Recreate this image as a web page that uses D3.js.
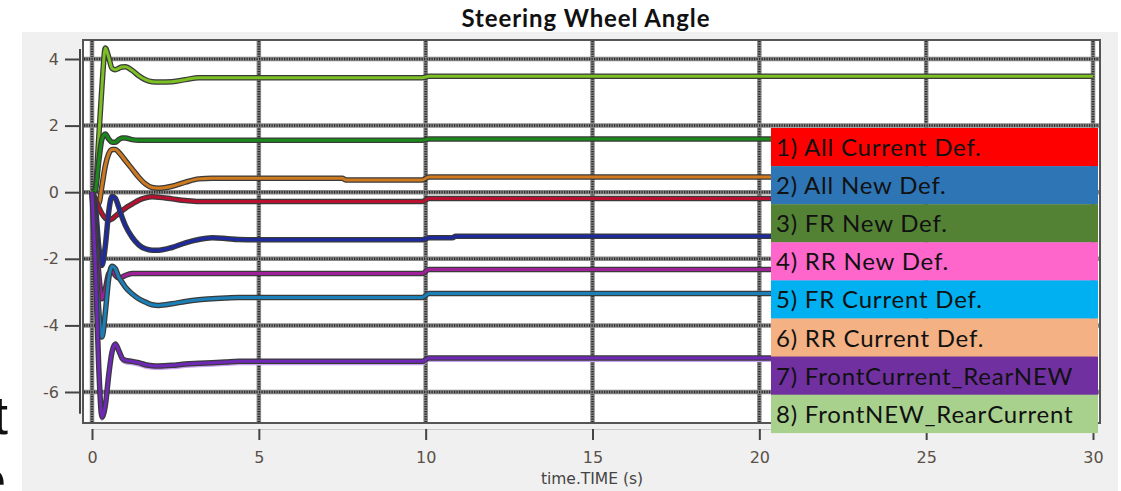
<!DOCTYPE html>
<html>
<head>
    <meta charset="utf-8" />
    <title>Steering Wheel Angle</title>
    <script src="https://cdn.jsdelivr.net/npm/d3@7"></script>
    <style>
        body { margin: 0; background: #fff; }
        svg { display: block; }
        .tick text { font-family: "DejaVu Sans", sans-serif; font-size: 16px; fill: #5a5048; }
    </style>
</head>
<body>
    <svg id="chart" width="1121" height="491"></svg>

    <script>
        // time samples shared by every curve (s)
        var times = [0, 0.1, 0.2, 0.3, 0.4, 0.5, 0.6, 0.7, 0.8, 0.9, 1.0, 1.2, 1.4, 1.6, 1.8, 2.0,
            2.4, 2.8, 3.2, 3.6, 4.0, 4.4, 5.0, 6.0, 7.5, 7.6, 9.9, 10.1, 10.8, 10.9, 20, 30]

        // steering wheel angle per curve
        var yellowGreen = [0, 0.1, 1.6, 3.2, 4.33, 4.05, 3.72, 3.68, 3.72, 3.76, 3.77, 3.66, 3.5, 3.38, 3.32, 3.31,
            3.32, 3.38, 3.44, 3.44, 3.44, 3.44, 3.44, 3.44, 3.44, 3.44, 3.44, 3.48, 3.48, 3.48, 3.48, 3.48]
        var darkGreen = [0, 0.05, 0.9, 1.6, 1.75, 1.6, 1.5, 1.5, 1.58, 1.63, 1.63, 1.58, 1.56, 1.56, 1.56, 1.56,
            1.56, 1.56, 1.56, 1.56, 1.56, 1.56, 1.56, 1.56, 1.56, 1.56, 1.56, 1.6, 1.6, 1.6, 1.6, 1.6]
        var orange = [0, -0.2, -0.35, 0.2, 0.8, 1.15, 1.28, 1.28, 1.2, 1.08, 0.95, 0.7, 0.45, 0.25, 0.14, 0.12,
            0.18, 0.3, 0.4, 0.42, 0.42, 0.42, 0.42, 0.42, 0.42, 0.37, 0.37, 0.46, 0.46, 0.46, 0.46, 0.46]
        var crimson = [0, -0.2, -0.45, -0.65, -0.78, -0.84, -0.8, -0.72, -0.64, -0.56, -0.48, -0.36, -0.24, -0.17, -0.14, -0.15,
            -0.2, -0.25, -0.28, -0.28, -0.28, -0.28, -0.28, -0.28, -0.28, -0.28, -0.28, -0.19, -0.19, -0.19, -0.19, -0.19]
        var navy = [0, -0.4, -1.6, -2.2, -1.6, -0.6, -0.12, -0.18, -0.45, -0.75, -1.0, -1.35, -1.58, -1.7, -1.74, -1.74,
            -1.66, -1.52, -1.42, -1.37, -1.39, -1.42, -1.43, -1.43, -1.43, -1.43, -1.43, -1.37, -1.37, -1.32, -1.32, -1.32]
        var magenta = [0, -1.0, -2.4, -3.2, -2.9, -2.45, -2.35, -2.5, -2.58, -2.55, -2.5, -2.44, -2.44, -2.44, -2.44, -2.44,
            -2.44, -2.44, -2.44, -2.44, -2.44, -2.44, -2.44, -2.44, -2.44, -2.44, -2.44, -2.32, -2.32, -2.32, -2.32, -2.32]
        var teal = [0, -1.5, -3.5, -4.35, -3.6, -2.6, -2.22, -2.3, -2.55, -2.7, -2.85, -3.05, -3.2, -3.3, -3.38, -3.4,
            -3.35, -3.28, -3.23, -3.2, -3.18, -3.16, -3.16, -3.16, -3.16, -3.16, -3.16, -3.04, -3.04, -3.04, -3.04, -3.04]
        var purple = [0, -2.2, -5.2, -6.75, -6.4, -5.5, -4.8, -4.56, -4.75, -4.98, -5.05, -5.08, -5.12, -5.18, -5.21, -5.22,
            -5.2, -5.16, -5.14, -5.12, -5.1, -5.08, -5.08, -5.08, -5.08, -5.08, -5.08, -4.98, -4.98, -4.98, -4.98, -4.98]

        var seriesValues = [yellowGreen, darkGreen, orange, crimson, navy, magenta, teal, purple]
        var seriesColors = ['#7cc024', '#1a8a1a', '#d07a20', '#b8102e', '#1e2aa0', '#a0209a', '#1c80b8', '#7028b8']

        // legend pasted on top of the plot
        var legendLabels = ['1) All Current Def.', '2) All New Def.', '3) FR New Def.', '4) RR New Def.',
            '5) FR Current Def.', '6) RR Current Def.', '7) FrontCurrent_RearNEW', '8) FrontNEW_RearCurrent']
        var legendColors = ['#ff0000', '#2e75b6', '#548235', '#ff66cc', '#00b0f0', '#f4b183', '#7030a0', '#a9d18e']

        var xMajor = [0, 5, 10, 15, 20, 25, 30]
        var yMajor = [-6, -4, -2, 0, 2, 4]
    </script>

    <script>
        var svg = d3.select('#chart')
        var frame = { left: 83, right: 1100, top: 40, bottom: 423 }

        var x = d3.scaleLinear().domain([0, 30]).range([92, 1093])
        var y = d3.scaleLinear().domain([-6, 4]).range([392, 59])

        // grey panel of the plotting tool
        svg.append('rect').attr('x', 22).attr('y', 32).attr('width', 1096).attr('height', 470).attr('fill', '#f0f0f0')

        // bits of slide text cut at the left edge
        svg.append('text').attr('x', 8).attr('y', 434).attr('text-anchor', 'end')
            .style('font-family', 'Liberation Sans').style('font-size', '54px').attr('fill', '#111').text('t')
        svg.append('text').attr('x', 6).attr('y', 498).attr('text-anchor', 'end')
            .style('font-family', 'Liberation Sans').style('font-size', '54px').attr('fill', '#111').text('e')

        // title
        svg.append('text').attr('x', 586).attr('y', 27).attr('text-anchor', 'middle')
            .style('font-family', 'Lato').style('font-weight', 'bold').style('font-size', '24px')
            .style('letter-spacing', '0.9px')
            .attr('fill', '#111').text('Steering Wheel Angle')

        // plotting frame
        svg.append('rect').attr('x', frame.left).attr('y', frame.top)
            .attr('width', frame.right - frame.left).attr('height', frame.bottom - frame.top)
            .attr('fill', '#fff').attr('stroke', '#555').attr('stroke-width', 2)

        // thick dotted grid
        var grid = svg.append('g')
        function gridLine(sel) {
            sel.append('line').attr('stroke', '#888').attr('stroke-width', 4.5)
            sel.append('line').attr('stroke', '#2a2a2a').attr('stroke-width', 2.5).attr('stroke-dasharray', '1.2,1.3')
        }
        var vg = grid.selectAll('.vg').data(xMajor).enter().append('g').attr('class', 'vg')
        gridLine(vg)
        vg.selectAll('line')
            .attr('x1', function (d) { return x(d) }).attr('x2', function (d) { return x(d) })
            .attr('y1', frame.top + 1).attr('y2', frame.bottom - 1)
        var hg = grid.selectAll('.hg').data(yMajor).enter().append('g').attr('class', 'hg')
        gridLine(hg)
        hg.selectAll('line')
            .attr('y1', function (d) { return y(d) }).attr('y2', function (d) { return y(d) })
            .attr('x1', frame.left + 1).attr('x2', frame.right - 1)

        var plain = function (d) { return String(d) }

        // y axis, sitting left of the frame
        var yAxis = svg.append('g').attr('transform', 'translate(80,0)')
        yAxis.call(d3.axisLeft(y).tickValues(d3.range(-6.5, 4.01, 0.5)).tickSize(9).tickFormat(''))
        yAxis.call(d3.axisLeft(y).tickValues(yMajor).tickSize(15).tickPadding(6).tickFormat(plain))
        yAxis.selectAll('.domain').remove()
        yAxis.append('line').attr('y1', y(4.3)).attr('y2', y(-6.65)).attr('stroke', '#444').attr('stroke-width', 2)
        yAxis.selectAll('line').attr('stroke', '#444').attr('stroke-width', 2)

        // x axis below the frame
        var xAxis = svg.append('g').attr('transform', 'translate(0,429)')
        xAxis.call(d3.axisBottom(x).tickValues(d3.range(0, 31, 1)).tickSize(6).tickFormat(''))
        xAxis.call(d3.axisBottom(x).tickValues(xMajor).tickSize(11).tickPadding(12).tickFormat(plain))
        xAxis.selectAll('.domain').attr('stroke', '#c8c8c8')
        xAxis.selectAll('line').attr('stroke', '#444').attr('stroke-width', 2)

        svg.append('text').attr('x', 592).attr('y', 484).attr('text-anchor', 'middle')
            .style('font-family', '"DejaVu Sans", sans-serif').style('font-size', '15.5px').attr('fill', '#444')
            .text('time.TIME (s)')

        // curves: dark halo under a coloured line
        var line = d3.line()
            .x(function (d, i) { return x(times[i]) })
            .y(function (d) { return y(d) })
            .curve(d3.curveMonotoneX)

        var curves = svg.append('g')
        curves.append('path').datum(purple).attr('d', line).attr('fill', 'none')
            .attr('stroke', '#c8a0f0').attr('stroke-width', 3).attr('transform', 'translate(0,2.5)')
        seriesValues.forEach(function (vals, i) {
            curves.append('path').datum(vals).attr('d', line).attr('fill', 'none')
                .attr('stroke', '#3a3a3a').attr('stroke-width', 5.5).attr('stroke-linejoin', 'round')
            curves.append('path').datum(vals).attr('d', line).attr('fill', 'none')
                .attr('stroke', seriesColors[i]).attr('stroke-width', 3).attr('stroke-linejoin', 'round')
        })

        // legend block
        var lg = svg.append('g').attr('transform', 'translate(771,128)')
        var rowH = 38.1
        var rows = lg.selectAll('g').data(legendLabels).enter().append('g')
            .attr('transform', function (d, i) { return 'translate(0,' + (i * rowH) + ')' })
        rows.append('rect').attr('width', 327).attr('height', rowH + 0.3)
            .attr('fill', function (d, i) { return legendColors[i] })
        rows.append('text').attr('x', 5).attr('y', 28)
            .style('font-family', 'Lato').style('font-size', '24px').style('letter-spacing', '0.8px')
            .attr('fill', '#111')
            .text(function (d) { return d })
    </script>
</body>
</html>
